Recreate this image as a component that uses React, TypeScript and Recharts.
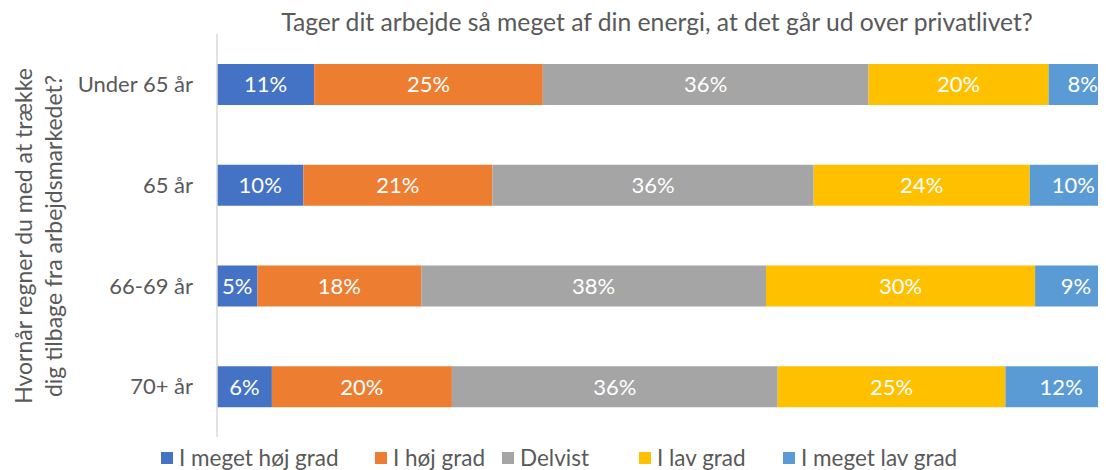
import React from 'react';
import { BarChart, Bar, XAxis, YAxis, LabelList } from 'recharts';

const categories = ['Under 65 år', '65 år', '66-69 år', '70+ år'];
const seriesNames = ['I meget høj grad', 'I høj grad', 'Delvist', 'I lav grad', 'I meget lav grad'];
const colors = ['#4472c4', '#ed7d31', '#a5a5a5', '#ffc000', '#5b9bd5'];

const meegetHoej = [10.8, 9.6, 4.5, 6.1];
const hoej = [25.4, 21.0, 18.2, 20.0];
const delvist = [36.2, 35.7, 38.3, 36.2];
const lav = [20.0, 24.0, 29.9, 25.3];
const meegetLav = [7.6, 9.7, 9.1, 12.4];

const seriesValues = [meegetHoej, hoej, delvist, lav, meegetLav];

const data = categories.map((name, i) => {
  const row: Record<string, string | number> = { name };
  seriesNames.forEach((s, j) => {
    row[s] = seriesValues[j][i];
  });
  return row;
});

const FONT = 'Lato, "Open Sans", sans-serif';
const TEXT = '#595959';
// left edge of each legend marker
const legendX = [153, 367, 494, 631, 775];

export default function App() {
  return (
    <div style={{ position: 'relative', width: 1098, height: 462, overflow: 'hidden', fontFamily: FONT }}>
      <div
        style={{
          position: 'absolute',
          left: 649,
          top: -2,
          transform: 'translateX(-50%)',
          whiteSpace: 'nowrap',
          fontSize: 24.7,
          lineHeight: '32px',
          color: TEXT,
        }}
      >
        Tager dit arbejde så meget af din energi, at det går ud over privatlivet?
      </div>
      <div
        style={{
          position: 'absolute',
          left: -170,
          top: 198,
          width: 400,
          height: 60,
          transform: 'rotate(-90deg)',
          textAlign: 'center',
          fontSize: 23,
          lineHeight: '30px',
          color: TEXT,
          whiteSpace: 'nowrap',
        }}
      >
        Hvornår regner du med at trække
        <br />
        dig tilbage fra arbejdsmarkedet?
      </div>
      <div style={{ position: 'absolute', left: 0, top: 0 }}>
        <BarChart
          width={1119}
          height={462}
          data={data}
          layout="vertical"
          margin={{ top: 26, right: 10, left: 0, bottom: 33 }}
        >
          <XAxis type="number" domain={[0, 100]} hide />
          <YAxis
            type="category"
            dataKey="name"
            width={209}
            tickLine={false}
            tickSize={0}
            tickMargin={24}
            axisLine={{ stroke: '#d9d9d9', strokeWidth: 1.5 }}
            tick={{ fill: TEXT, fontSize: 22, fontFamily: FONT }}
          />
          {seriesNames.map((s, j) => (
            <Bar key={s} dataKey={s} stackId="a" fill={colors[j]} barSize={41} isAnimationActive={false}>
              <LabelList
                dataKey={s}
                position="center"
                fill="#ffffff"
                fontSize={22}
                fontFamily={FONT}
                formatter={(v: any) => `${Math.round(Number(v))}%`}
              />
            </Bar>
          ))}
        </BarChart>
      </div>
      {seriesNames.map((s, j) => (
        <div
          key={s}
          style={{
            position: 'absolute',
            left: legendX[j],
            top: 435,
            display: 'flex',
            alignItems: 'center',
            fontSize: 22.5,
            lineHeight: '30px',
            color: TEXT,
            whiteSpace: 'nowrap',
          }}
        >
          <span style={{ width: 12, height: 12, background: colors[j], display: 'inline-block', marginRight: 6 }} />
          <span>{s}</span>
        </div>
      ))}
    </div>
  );
}
